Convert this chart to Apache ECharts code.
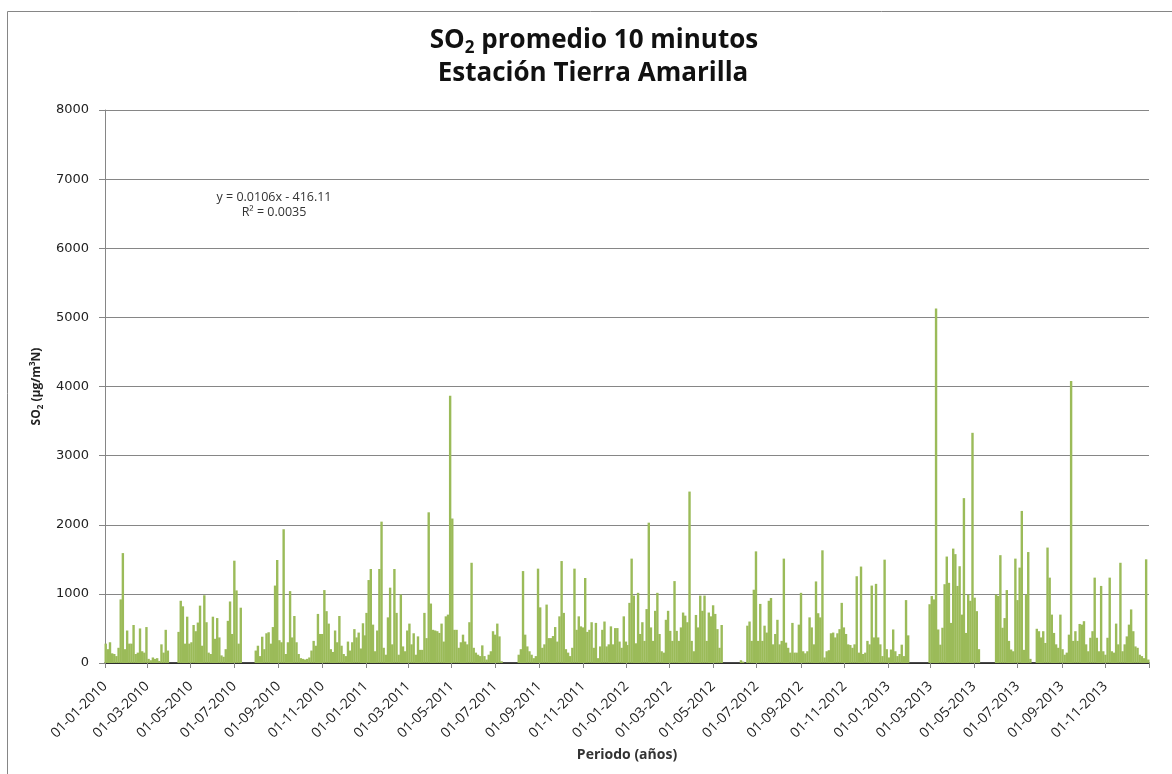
<!DOCTYPE html>
<html>
<head>
<meta charset="utf-8">
<script src="https://cdn.jsdelivr.net/npm/echarts@6/dist/echarts.min.js"></script>
<style>
html,body{margin:0;padding:0;background:#fff;}
#chart{width:1172px;height:774px;}
</style>
</head>
<body>
<div id="chart"></div>
<script>
// SO2 10-minute averages, Tierra Amarilla station.
// One value per 3-day window (peak of the window), starting on Jan 1 of each year; null = no data.
const so2_2010 = [
  280,200,300,140,130,100,220,920,1590,200,
  470,280,280,550,130,150,500,170,150,520,
  60,40,80,60,70,30,270,150,480,180,
  null,null,null,null,450,900,820,280,670,280,
  300,550,460,585,830,250,980,590,150,130,
  670,350,650,370,110,90,200,610,890,420,
  1480,1050,280,800,null,null,null,null,null,null,
  180,250,100,380,200,430,445,280,520,1120,
  1490,330,300,1935,130,300,1040,370,680,300,
  130,70,60,50,60,80,180,320,250,710,
  420,420,1055,750,570,200,160,470,300,680,
  250,130,100,310,180,300,490,370,440,210,
  575,400
];
const so2_2011 = [
  725,1200,1360,555,170,470,1360,2045,220,120,
  660,1090,270,1360,725,120,990,240,170,470,
  570,270,430,120,385,190,190,725,360,2180,
  860,480,470,460,435,570,310,675,700,3865,
  2090,480,480,220,300,410,310,270,590,1450,
  220,150,120,100,255,100,50,120,170,460,
  410,570,385,25,null,null,null,null,null,null,
  null,120,200,1330,410,240,170,120,70,100,
  1365,805,220,270,845,360,360,390,520,310,
  675,1475,725,200,150,100,220,1365,480,675,
  530,515,1230,450,480,590,220,580,70,240,
  480,600,240,270,530,270,505,505,310,220,
  675,310
];
const so2_2012 = [
  260,870,1510,975,285,1015,420,590,320,780,
  2030,515,320,755,1015,420,170,150,625,755,
  465,320,1185,465,320,515,730,685,590,2480,
  320,170,695,515,975,755,975,320,730,675,
  835,710,490,220,550,null,null,null,null,null,
  null,null,null,40,20,null,540,600,320,1060,
  1615,320,855,320,540,440,900,940,270,420,
  625,270,320,1510,295,220,150,580,150,150,
  555,1015,170,140,170,660,515,270,1180,720,
  660,1630,80,170,185,430,440,370,430,490,
  870,515,420,270,260,220,270,1255,150,1395,
  130,150,320,270,1120,370,1145,370,270,100,
  1495,200
];
const so2_2013 = [
  80,195,485,170,100,130,265,100,910,400,
  null,null,null,null,null,null,null,null,null,850,
  970,920,5130,485,265,510,1140,1540,1160,580,
  1655,1575,1115,1400,700,2385,435,990,900,3330,
  945,750,200,null,null,null,null,null,null,null,
  990,970,1560,510,650,1055,320,195,170,1510,
  910,1380,2200,190,990,1605,60,null,null,495,
  460,370,460,290,1670,1235,700,435,270,220,
  700,200,120,150,410,4080,320,460,320,565,
  555,605,270,170,365,460,1235,365,170,1115,
  170,120,365,1235,170,150,570,270,1450,170,
  270,385,555,775,460,240,220,120,100,70,
  1500,50
];
const yearSeries = [[2010, so2_2010], [2011, so2_2011], [2012, so2_2012], [2013, so2_2013]];
const windowDays = 3;

// x-axis ticks every two months; the last tick closes the axis without a label
const tickDates = [
  '2010-01-01','2010-03-01','2010-05-01','2010-07-01','2010-09-01','2010-11-01',
  '2011-01-01','2011-03-01','2011-05-01','2011-07-01','2011-09-01','2011-11-01',
  '2012-01-01','2012-03-01','2012-05-01','2012-07-01','2012-09-01','2012-11-01',
  '2013-01-01','2013-03-01','2013-05-01','2013-07-01','2013-09-01','2013-11-01',
  '2014-01-01'
];
const labelDates = tickDates.slice(0, -1);

const yTicks = { min: 0, max: 8000, step: 1000 };
const trendText = ['y = 0.0106x - 416.11', 'R\u00b2 = 0.0035'];

const DAY = 86400000;
const toTs = s => Date.parse(s + 'T00:00:00Z');
const points = [];
yearSeries.forEach(([year, vals]) => {
  const start = Date.UTC(year, 0, 1);
  vals.forEach((v, i) => {
    if (v !== null) points.push([start + (i * windowDays + 1) * DAY, v]);
  });
});
const pad = n => (n < 10 ? '0' : '') + n;
const fmtDate = ts => {
  const d = new Date(ts);
  return pad(d.getUTCDate()) + '-' + pad(d.getUTCMonth() + 1) + '-' + d.getUTCFullYear();
};

const chart = echarts.init(document.getElementById('chart'), null, { renderer: 'canvas' });
const axisGray = '#868686';
const textFont = 'Open Sans';

chart.setOption({
  animation: false,
  backgroundColor: '#ffffff',
  grid: { left: 105, right: 23, top: 110, bottom: 111, containLabel: false, outerBoundsMode: 'none' },
  xAxis: {
    type: 'value',
    min: toTs('2010-01-01'),
    max: toTs('2014-01-01'),
    axisLine: { show: true, lineStyle: { color: '#111', width: 1.5 } },
    axisTick: { show: true, length: 5, lineStyle: { color: axisGray }, customValues: tickDates.map(toTs) },
    axisLabel: {
      customValues: labelDates.map(toTs),
      formatter: v => fmtDate(v),
      rotate: 45,
      margin: 21,
      fontFamily: textFont,
      fontSize: 14,
      color: '#222'
    },
    splitLine: { show: false },
    name: 'Periodo (años)',
    nameLocation: 'middle',
    nameGap: 84,
    nameTextStyle: { fontFamily: textFont, fontWeight: 'bold', fontSize: 14, color: '#333' }
  },
  yAxis: {
    type: 'value',
    min: yTicks.min,
    max: yTicks.max,
    interval: yTicks.step,
    axisLine: { show: true, lineStyle: { color: axisGray, width: 1 } },
    axisTick: { show: true, length: 6, lineStyle: { color: axisGray } },
    axisLabel: { margin: 16, fontFamily: 'DejaVu Sans', fontSize: 13, color: '#222', formatter: v => String(v) },
    splitLine: { show: true, lineStyle: { color: axisGray, width: 1 } },
    name: '{b|SO}{s|2}{b| (µg/m}{p|3}{b|N)}',
    nameLocation: 'middle',
    nameGap: 55,
    nameTextStyle: {
      rich: {
        b: { fontFamily: textFont, fontWeight: 'bold', fontSize: 12, color: '#222', lineHeight: 16 },
        s: { fontFamily: textFont, fontWeight: 'bold', fontSize: 8, color: '#222', lineHeight: 16, verticalAlign: 'bottom' },
        p: { fontFamily: textFont, fontWeight: 'bold', fontSize: 8, color: '#222', lineHeight: 16, verticalAlign: 'top' }
      }
    }
  },
  series: [{
    type: 'bar',
    data: points,
    barWidth: 2.4,
    itemStyle: { color: '#9BBB59' },
    emphasis: { disabled: true },
    silent: true
  }],
  graphic: [
    {
      type: 'rect', z: -10, silent: true,
      shape: { x: 7.5, y: 11.5, width: 1200, height: 800 },
      style: { fill: 'none', stroke: axisGray, lineWidth: 1 }
    },
    {
      type: 'text', silent: true,
      style: {
        x: 594, y: 41, align: 'center', verticalAlign: 'middle',
        text: '{b|SO}{s|2}{b| promedio 10 minutos}',
        rich: {
          b: { fontFamily: textFont, fontWeight: 'bold', fontSize: 26, fill: '#111', lineHeight: 32 },
          s: { fontFamily: textFont, fontWeight: 'bold', fontSize: 17, fill: '#111', lineHeight: 32, verticalAlign: 'bottom' }
        }
      }
    },
    {
      type: 'text', silent: true,
      style: {
        x: 593, y: 74, align: 'center', verticalAlign: 'middle',
        text: 'Estación Tierra Amarilla',
        fontFamily: textFont, fontWeight: 'bold', fontSize: 26, fill: '#111'
      }
    },
    {
      type: 'text', silent: true,
      style: {
        x: 274, y: 197, align: 'center', verticalAlign: 'middle',
        text: trendText[0], fontFamily: textFont, fontSize: 12.5, fill: '#333'
      }
    },
    {
      type: 'text', silent: true,
      style: {
        x: 274, y: 212, align: 'center', verticalAlign: 'middle',
        text: trendText[1], fontFamily: textFont, fontSize: 12.5, fill: '#333'
      }
    }
  ]
});
</script>
</body>
</html>
